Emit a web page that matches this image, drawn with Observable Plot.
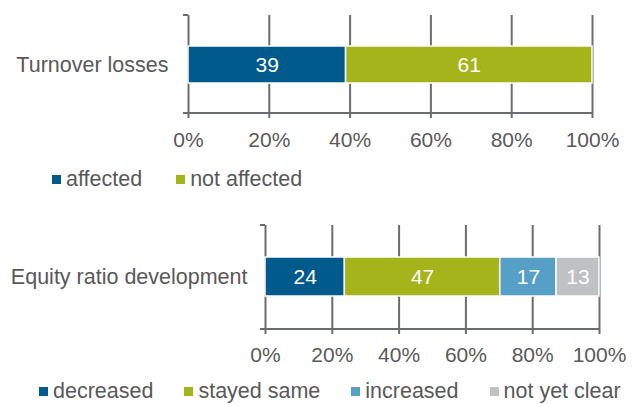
<!DOCTYPE html>
<html>
<head>
<meta charset="utf-8">
<script src="https://cdn.jsdelivr.net/npm/d3@7"></script>
<script src="https://cdn.jsdelivr.net/npm/@observablehq/plot@0.6"></script>
<style>
  html, body { margin: 0; padding: 0; background: #ffffff; }
  #root { position: relative; width: 633px; height: 404px; overflow: hidden;
          font-family: "Liberation Sans", Arial, sans-serif; color: #595959; }
  .panel { position: absolute; left: 0; }
  .legend { position: absolute; display: flex; align-items: center; font-size: 21.5px;
            line-height: 24px; white-space: nowrap; color: #595959; }
  .legend .item { display: flex; align-items: center; }
  .legend .sw { width: 9px; height: 9px; margin-right: 5px; }
</style>
</head>
<body>
<div id="root"></div>
<script>
// ---- data ----
const turnoverRow = "Turnover losses";
const turnoverCategories = ["affected", "not affected"];
const turnoverValues = [39, 61];

const equityRow = "Equity ratio development";
const equityCategories = ["decreased", "stayed same", "increased", "not yet clear"];
const equityValues = [24, 47, 17, 13];

const xTicks = [0, 0.2, 0.4, 0.6, 0.8, 1];

// ---- styles ----
const turnoverColors = ["#005a8b", "#a6b41b"];
const equityColors = ["#005a8b", "#a6b41b", "#56a0c8", "#bfc1c3"];
const gridColor = "#6a6d70";
const textColor = "#595959";
const fontFamily = "'Liberation Sans', Arial, sans-serif";

const root = document.getElementById("root");

function axisDecor() {
  return (index, scales, values, dims) => {
    const {marginLeft, marginTop, marginBottom, marginRight, width, height} = dims;
    const g = d3.create("svg:g").attr("stroke", gridColor).attr("stroke-width", 2).attr("fill", "none");
    const yb = height - marginBottom;
    g.append("line").attr("x1", marginLeft - 5).attr("x2", width - marginRight).attr("y1", yb).attr("y2", yb);
    g.append("line").attr("x1", marginLeft - 5).attr("x2", marginLeft).attr("y1", marginTop).attr("y2", marginTop);
    return g.node();
  };
}

function panel({row, cats, vals, colors, top, height, mTop, mBottom, mLeft, mRight, tickPad, labelPad}) {
  const data = cats.map((c, i) => ({row, cat: c, value: vals[i]}));
  const chart = Plot.plot({
    width: 633,
    height,
    marginTop: mTop,
    marginBottom: mBottom,
    marginLeft: mLeft,
    marginRight: mRight,
    style: {fontFamily, fontSize: "21px", color: textColor, background: "transparent", overflow: "visible"},
    x: {domain: [0, 1], axis: null, label: null},
    y: {domain: [row], padding: 0.45, axis: null, label: null},
    color: {domain: cats, range: colors},
    marks: [
      Plot.ruleX(xTicks, {x: d => d, stroke: gridColor, strokeWidth: 2}),
      axisDecor(),
      Plot.axisX({ticks: xTicks, tickFormat: d => Math.round(d * 100) + "%", tickSize: 5, label: null,
                  tickPadding: tickPad, stroke: gridColor, strokeWidth: 2, fill: textColor, fontSize: 21}),
      Plot.axisY({tickSize: 0, tickPadding: labelPad, label: null, fill: textColor, fontSize: 21.5}),
      Plot.barX(data, Plot.stackX({x: "value", y: "row", fill: "cat", offset: "normalize",
                                    stroke: "white", strokeWidth: 1.5})),
      Plot.text(data, Plot.stackX({x: "value", y: "row", z: "cat", text: d => String(d.value),
                                    offset: "normalize", fill: "white", fontSize: 21}))
    ]
  });
  chart.classList.add("panel");
  chart.style.top = top + "px";
  root.appendChild(chart);
}

function legend(cats, colors, left, top, gap) {
  const div = document.createElement("div");
  div.className = "legend";
  div.style.left = left + "px";
  div.style.top = top + "px";
  div.style.gap = gap + "px";
  cats.forEach((c, i) => {
    const item = document.createElement("div");
    item.className = "item";
    const sw = document.createElement("span");
    sw.className = "sw";
    sw.style.background = colors[i];
    const t = document.createElement("span");
    t.textContent = c;
    item.appendChild(sw);
    item.appendChild(t);
    div.appendChild(item);
  });
  root.appendChild(div);
}

panel({row: turnoverRow, cats: turnoverCategories, vals: turnoverValues, colors: turnoverColors,
       top: 0, height: 160, mTop: 15, mBottom: 47, mLeft: 188, mRight: 41, tickPad: 14, labelPad: 20});
legend(turnoverCategories, turnoverColors, 52, 167, 34);

panel({row: equityRow, cats: equityCategories, vals: equityValues, colors: equityColors,
       top: 210, height: 160, mTop: 15, mBottom: 41, mLeft: 265, mRight: 34, tickPad: 13, labelPad: 18});
legend(equityCategories, equityColors, 39, 379, 31);
</script>
</body>
</html>
